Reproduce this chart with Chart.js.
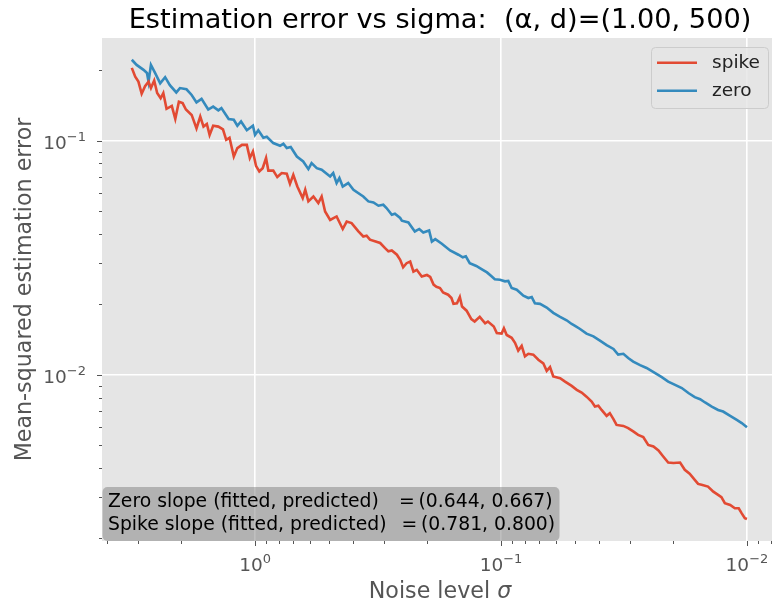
<!DOCTYPE html>
<html>
<head>
<meta charset="utf-8">
<script src="https://cdn.jsdelivr.net/npm/chart.js@4.4.1/dist/chart.umd.min.js"></script>
<style>
  html, body { margin: 0; padding: 0; background: #fff; }
  canvas { display: block; }
</style>
</head>
<body>
<canvas id="errChart" width="772" height="604"></canvas>
<script>
// noise level sigma and MSE
const zeroSigma = [
  3.17, 3.03, 2.84, 2.75, 2.71, 2.65, 2.55, 2.43, 2.32, 2.22,
  2.09, 2.02, 1.90, 1.81, 1.73, 1.65, 1.55, 1.48, 1.41, 1.37,
  1.28, 1.22, 1.18, 1.14, 1.08, 1.02, 1.00, 0.970, 0.925, 0.896,
  0.843, 0.791, 0.767, 0.743, 0.716, 0.676, 0.637, 0.607, 0.589, 0.561,
  0.536, 0.495, 0.481, 0.466, 0.454, 0.440, 0.418, 0.398, 0.363, 0.346,
  0.330, 0.315, 0.301, 0.292, 0.278, 0.270, 0.257, 0.253, 0.238, 0.224,
  0.215, 0.207, 0.196, 0.191, 0.185, 0.174, 0.161, 0.149, 0.143, 0.139,
  0.134, 0.126, 0.120, 0.114, 0.109, 0.106, 0.101, 0.0963, 0.0934, 0.0905,
  0.0863, 0.0811, 0.0774, 0.0750, 0.0728, 0.0694, 0.0652, 0.0613, 0.0575, 0.0541,
  0.0516, 0.0500, 0.0477, 0.0449, 0.0421, 0.0396, 0.0372, 0.0349, 0.0334, 0.0318,
  0.0304, 0.0290, 0.0272, 0.0256, 0.0237, 0.0222, 0.0209, 0.0196, 0.0184, 0.0173,
  0.0163, 0.0155, 0.0148, 0.0139, 0.0131, 0.0125, 0.0117, 0.0110, 0.0105, 0.0100
];
const zeroErr = [
  0.222, 0.211, 0.201, 0.195, 0.179, 0.211, 0.195, 0.176, 0.187, 0.173,
  0.161, 0.168, 0.166, 0.157, 0.146, 0.151, 0.136, 0.140, 0.135, 0.138,
  0.124, 0.123, 0.116, 0.121, 0.111, 0.116, 0.106, 0.111, 0.103, 0.104,
  0.0978, 0.0952, 0.0971, 0.0931, 0.0940, 0.0857, 0.0816, 0.0757, 0.0803, 0.0764,
  0.0752, 0.0704, 0.0728, 0.0660, 0.0693, 0.0638, 0.0660, 0.0618, 0.0578, 0.0551,
  0.0545, 0.0528, 0.0533, 0.0516, 0.0483, 0.0488, 0.0468, 0.0456, 0.0448, 0.0410,
  0.0420, 0.0406, 0.0414, 0.0371, 0.0380, 0.0363, 0.0340, 0.0326, 0.0318, 0.0321,
  0.0300, 0.0292, 0.0283, 0.0274, 0.0263, 0.0256, 0.0255, 0.0251, 0.0252, 0.0235,
  0.0231, 0.0218, 0.0213, 0.0215, 0.0202, 0.0201, 0.0194, 0.0184, 0.0177, 0.0171,
  0.0165, 0.0162, 0.0157, 0.0150, 0.0146, 0.0140, 0.0134, 0.0129, 0.0122, 0.0123,
  0.0118, 0.0114, 0.0110, 0.0107, 0.0102, 0.00977, 0.00936, 0.00906, 0.00878, 0.00836,
  0.00803, 0.00787, 0.00762, 0.00732, 0.00708, 0.00697, 0.00668, 0.00642, 0.00622, 0.00597
];
const spikeSigma = [
  3.17, 3.07, 2.98, 2.89, 2.80, 2.71, 2.65, 2.57, 2.50, 2.42,
  2.36, 2.29, 2.18, 2.11, 2.04, 1.97, 1.91, 1.81, 1.73, 1.67,
  1.62, 1.57, 1.53, 1.48, 1.41, 1.35, 1.31, 1.27, 1.22, 1.18,
  1.13, 1.08, 1.05, 1.02, 0.991, 0.961, 0.931, 0.902, 0.883, 0.843,
  0.812, 0.779, 0.743, 0.721, 0.699, 0.673, 0.640, 0.625, 0.607, 0.579,
  0.553, 0.536, 0.519, 0.495, 0.466, 0.440, 0.424, 0.405, 0.380, 0.363,
  0.352, 0.341, 0.310, 0.296, 0.287, 0.278, 0.265, 0.257, 0.250, 0.242,
  0.234, 0.227, 0.220, 0.210, 0.200, 0.194, 0.188, 0.183, 0.177, 0.172,
  0.164, 0.159, 0.156, 0.151, 0.147, 0.144, 0.138, 0.132, 0.128, 0.122,
  0.116, 0.113, 0.107, 0.104, 0.0994, 0.0973, 0.0948, 0.0905, 0.0877, 0.0851,
  0.0824, 0.0799, 0.0774, 0.0739, 0.0705, 0.0673, 0.0652, 0.0632, 0.0613, 0.0575,
  0.0549, 0.0516, 0.0492, 0.0470, 0.0449, 0.0428, 0.0415, 0.0402, 0.0390, 0.0372,
  0.0361, 0.0349, 0.0339, 0.0318, 0.0304, 0.0290, 0.0277, 0.0264, 0.0252, 0.0240,
  0.0229, 0.0219, 0.0209, 0.0199, 0.0187, 0.0179, 0.0171, 0.0163, 0.0158, 0.0153,
  0.0144, 0.0137, 0.0131, 0.0127, 0.0123, 0.0117, 0.0112, 0.0108, 0.0105, 0.0102, 0.0100
];
const spikeErr = [
  0.205, 0.188, 0.179, 0.159, 0.171, 0.179, 0.168, 0.181, 0.160, 0.152,
  0.160, 0.137, 0.141, 0.124, 0.147, 0.145, 0.136, 0.129, 0.113, 0.127,
  0.115, 0.118, 0.106, 0.116, 0.115, 0.112, 0.101, 0.103, 0.0857, 0.0931,
  0.0961, 0.0961, 0.0844, 0.0900, 0.0782, 0.0740, 0.0764, 0.0844, 0.0746, 0.0746,
  0.0700, 0.0728, 0.0723, 0.0655, 0.0716, 0.0638, 0.0569, 0.0618, 0.0551, 0.0578,
  0.0542, 0.0578, 0.0499, 0.0459, 0.0475, 0.0420, 0.0452, 0.0445, 0.0410, 0.0390,
  0.0393, 0.0378, 0.0366, 0.0348, 0.0337, 0.0340, 0.0326, 0.0310, 0.0288, 0.0300,
  0.0305, 0.0276, 0.0281, 0.0263, 0.0267, 0.0262, 0.0243, 0.0238, 0.0235, 0.0225,
  0.0220, 0.0213, 0.0201, 0.0202, 0.0215, 0.0196, 0.0188, 0.0173, 0.0169, 0.0177,
  0.0166, 0.0169, 0.0161, 0.0151, 0.0150, 0.0158, 0.0148, 0.0144, 0.0137, 0.0127,
  0.0133, 0.0120, 0.0123, 0.0122, 0.0116, 0.0112, 0.0104, 0.0108, 0.00984, 0.00968,
  0.00936, 0.00897, 0.00863, 0.00840, 0.00807, 0.00769, 0.00732, 0.00738, 0.00708, 0.00668,
  0.00686, 0.00647, 0.00611, 0.00605, 0.00592, 0.00573, 0.00554, 0.00542, 0.00502, 0.00494,
  0.00475, 0.00448, 0.00422, 0.00420, 0.00422, 0.00393, 0.00378, 0.00356, 0.00342, 0.00339,
  0.00333, 0.00317, 0.00307, 0.00300, 0.00283, 0.00278, 0.00269, 0.00269, 0.00256, 0.00244, 0.00242
];

const seriesNames = ['spike', 'zero'];
const seriesColors = ['#E24A33', '#348ABD'];

const xTickValues = [4, 3, 2, 1, 0.9, 0.8, 0.7, 0.6, 0.5, 0.4, 0.3, 0.2, 0.1,
  0.09, 0.08, 0.07, 0.06, 0.05, 0.04, 0.03, 0.02, 0.01, 0.009, 0.008];
const yTickValues = [0.002, 0.003, 0.004, 0.005, 0.006, 0.007, 0.008, 0.009, 0.01,
  0.02, 0.03, 0.04, 0.05, 0.06, 0.07, 0.08, 0.09, 0.1, 0.2];
const xMajor = [1, 0.1, 0.01];
const xMajorExp = ['0', '\u22121', '\u22122'];
const yMajor = [0.1, 0.01];
const yMajorExp = ['\u22121', '\u22122'];

const titleText = 'Estimation error vs sigma:  (\u03b1, d)=(1.00, 500)';
const slopeRows = [
  ['Zero slope (fitted, predicted)', '=', '(0.644, 0.667)'],
  ['Spike slope (fitted, predicted)', '=', '(0.781, 0.800)']
];

const FONT = '"DejaVu Sans", "Noto Sans", sans-serif';
const isMajor = v => Math.abs(Math.log10(v) - Math.round(Math.log10(v))) < 1e-6;

function drawPow(ctx, exp, x, y, supDy, align) {
  ctx.font = '18.5px ' + FONT;
  const wBase = ctx.measureText('10').width;
  ctx.font = '13px ' + FONT;
  const wExp = ctx.measureText(exp).width;
  const total = wBase + wExp;
  let left = x;
  if (align === 'center') left = x - total / 2;
  if (align === 'right') left = x - total;
  ctx.textAlign = 'left';
  ctx.textBaseline = 'alphabetic';
  ctx.font = '18.5px ' + FONT;
  ctx.fillText('10', left, y);
  ctx.font = '13px ' + FONT;
  ctx.fillText(exp, left + wBase, y - supDy);
}

const ggplotLook = {
  id: 'ggplotLook',
  beforeDraw(chart) {
    const { ctx, chartArea: a } = chart;
    ctx.save();
    ctx.fillStyle = '#E5E5E5';
    ctx.fillRect(a.left, a.top, a.right - a.left, a.bottom - a.top);
    ctx.restore();
  },
  afterDraw(chart) {
    const { ctx, chartArea: a } = chart;
    const xs = chart.scales.x, ys = chart.scales.y;
    ctx.save();

    // tick marks
    ctx.strokeStyle = '#555';
    ctx.lineWidth = 1;
    xTickValues.forEach(v => {
      const px = Math.round(xs.getPixelForValue(v)) + 0.5;
      const len = isMajor(v) ? 5 : 3;
      ctx.beginPath(); ctx.moveTo(px, a.bottom); ctx.lineTo(px, a.bottom + len); ctx.stroke();
    });
    yTickValues.forEach(v => {
      const py = Math.round(ys.getPixelForValue(v)) + 0.5;
      const len = isMajor(v) ? 5 : 3;
      ctx.beginPath(); ctx.moveTo(a.left, py); ctx.lineTo(a.left - len, py); ctx.stroke();
    });

    // tick labels
    ctx.fillStyle = '#555';
    xMajor.forEach((v, i) => drawPow(ctx, xMajorExp[i], xs.getPixelForValue(v), a.bottom + 30, 8, 'center'));
    yMajor.forEach((v, i) => drawPow(ctx, yMajorExp[i], a.left - 16, ys.getPixelForValue(v) + 8, 7.5, 'right'));

    // axis titles
    ctx.textBaseline = 'alphabetic';
    ctx.font = '22.2px ' + FONT;
    const xLab = 'Noise level ';
    const wLab = ctx.measureText(xLab).width;
    ctx.font = 'italic 22.2px ' + FONT;
    const wSig = ctx.measureText('\u03c3').width;
    const lx = 440 - (wLab + wSig) / 2;
    ctx.textAlign = 'left';
    ctx.font = '22.2px ' + FONT;
    ctx.fillText(xLab, lx, 598);
    ctx.font = 'italic 22.2px ' + FONT;
    ctx.fillText('\u03c3', lx + wLab, 598);

    ctx.save();
    ctx.translate(31, (a.top + a.bottom) / 2);
    ctx.rotate(-Math.PI / 2);
    ctx.textAlign = 'center';
    ctx.font = '22.2px ' + FONT;
    ctx.fillText('Mean-squared estimation error', 0, 0);
    ctx.restore();

    // title
    ctx.fillStyle = '#000';
    ctx.font = '27.2px ' + FONT;
    ctx.textAlign = 'center';
    ctx.fillText(titleText, 440, 28);

    // legend
    ctx.beginPath();
    ctx.roundRect(651.5, 47.5, 117, 61, 4);
    ctx.fillStyle = 'rgba(229,229,229,0.8)';
    ctx.fill();
    ctx.strokeStyle = '#CCCCCC';
    ctx.lineWidth = 1;
    ctx.stroke();
    seriesNames.forEach((name, i) => {
      const ly = 62.7 + i * 28;
      ctx.strokeStyle = seriesColors[i];
      ctx.lineWidth = 2.5;
      ctx.beginPath(); ctx.moveTo(657, ly); ctx.lineTo(697, ly); ctx.stroke();
      ctx.fillStyle = '#222';
      ctx.font = '18.5px ' + FONT;
      ctx.textAlign = 'left';
      ctx.fillText(name, 712, ly + 5.5);
    });

    // slope text box
    ctx.beginPath();
    ctx.roundRect(102.5, 487, 457, 54, 5);
    ctx.fillStyle = 'rgba(128,128,128,0.5)';
    ctx.fill();
    ctx.fillStyle = '#000';
    ctx.font = '18.8px ' + FONT;
    ctx.textAlign = 'left';
    slopeRows.forEach((row, i) => {
      const by = 507 + i * 23;
      const eqX = i === 0 ? 399 : 401.5;
      ctx.fillText(row[0], 108, by);
      ctx.fillText(row[1], eqX, by);
      ctx.fillText(row[2], eqX + 19.5, by);
    });

    ctx.restore();
  }
};

const gridColor = c => (c.tick && isMajor(c.tick.value)) ? '#FFFFFF' : 'rgba(0,0,0,0)';

new Chart(document.getElementById('errChart'), {
  type: 'line',
  data: {
    datasets: [
      {
        label: seriesNames[0],
        data: spikeSigma.map((s, i) => ({ x: s, y: spikeErr[i] })),
        borderColor: seriesColors[0],
        borderWidth: 2.6,
        pointRadius: 0,
        tension: 0,
        fill: false
      },
      {
        label: seriesNames[1],
        data: zeroSigma.map((s, i) => ({ x: s, y: zeroErr[i] })),
        borderColor: seriesColors[1],
        borderWidth: 2.6,
        pointRadius: 0,
        tension: 0,
        fill: false
      }
    ]
  },
  options: {
    responsive: false,
    animation: false,
    devicePixelRatio: 1,
    layout: { padding: { left: 102, right: 0, top: 38, bottom: 63 } },
    plugins: {
      legend: { display: false },
      title: { display: false },
      tooltip: { enabled: false }
    },
    scales: {
      x: {
        type: 'logarithmic',
        reverse: true,
        min: 0.00791,
        max: 4.19,
        afterBuildTicks: s => { s.ticks = xTickValues.map(v => ({ value: v })); },
        ticks: { display: false },
        grid: { color: gridColor, lineWidth: 1.6, drawTicks: false },
        border: { display: false }
      },
      y: {
        type: 'logarithmic',
        min: 0.00195,
        max: 0.275,
        afterBuildTicks: s => { s.ticks = yTickValues.map(v => ({ value: v })); },
        ticks: { display: false },
        grid: { color: gridColor, lineWidth: 1.6, drawTicks: false },
        border: { display: false }
      }
    }
  },
  plugins: [ggplotLook]
});
</script>
</body>
</html>
